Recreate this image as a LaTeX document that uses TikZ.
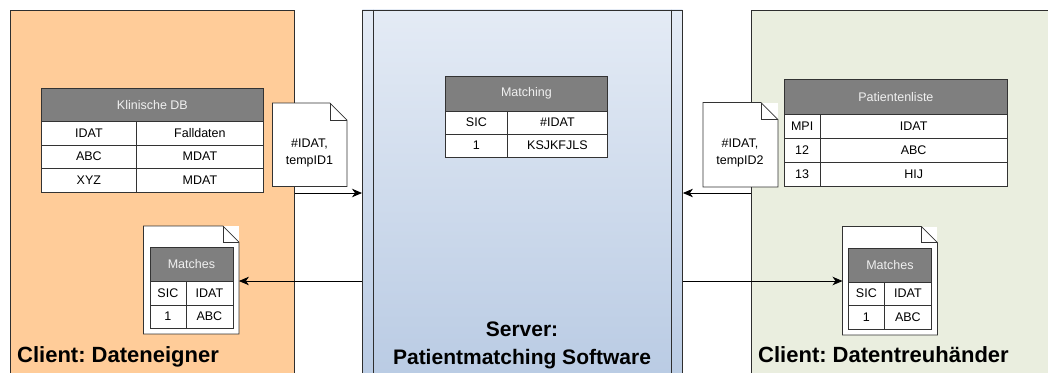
\documentclass[tikz,border=0pt]{standalone}
\usepackage{fontspec}
\setmainfont{Liberation Sans}
\usetikzlibrary{arrows.meta}
\definecolor{leftfill}{HTML}{FFCC99}
\definecolor{rightfill}{HTML}{EAEEDF}
\definecolor{srvtop}{HTML}{E4EBF5}
\definecolor{srvbot}{HTML}{B8CAE3}
\definecolor{framecol}{HTML}{2E2E2E}
\definecolor{tabline}{HTML}{333333}
\definecolor{hdrgray}{HTML}{7F7F7F}
\definecolor{hdrtext}{HTML}{F0F0F0}
\newcommand\tabfont{\fontsize{12.5}{14}\selectfont}
\newcommand\tc[7]{\node[#1, minimum width=#5pt, minimum height=#6pt] (#2) at (#3,#4) {#7};}
\newcommand\docoutline[2]{%
  \draw[docline] (#1.north west) -- ([xshift=-#2pt]#1.north east) -- ([yshift=-#2pt]#1.north east) -- (#1.south east) -- (#1.south west) -- cycle;
  \draw[docline] ([xshift=-#2pt]#1.north east) |- ([yshift=-#2pt]#1.north east);}
\frenchspacing
\begin{document}
\begin{tikzpicture}[x=1pt,y=-1pt,
  frame/.style={draw=framecol, line width=0.9pt, anchor=north west, inner sep=0pt},
  cellst/.style={draw=tabline, fill=white, line width=0.8pt, anchor=north west, inner sep=0pt, font=\tabfont, text=black},
  hdrst/.style={cellst, fill=hdrgray, text=hdrtext},
  docbody/.style={anchor=north west, inner sep=0pt, fill=white},
  docline/.style={draw=tabline, line width=0.8pt, line join=miter},
  doctext/.style={font=\fontsize{12.5}{16.5}\selectfont, align=center, inner sep=0pt},
  biglabel/.style={font=\fontsize{21}{27}\selectfont\bfseries, text=black, inner sep=0pt},
  arr/.style={draw=black, line width=0.8pt, -{Stealth[length=10pt,width=8.5pt,inset=3pt]}}
]
\useasboundingbox (0,0) rectangle (1048,372);
\clip (0,0) rectangle (1048,372);
\fill[white] (0,0) rectangle (1048,372);

% containers
\node[frame, fill=leftfill, minimum width=284.5pt, minimum height=380pt] (client1) at (9.5,10) {};
\node[frame, fill=rightfill, minimum width=320pt, minimum height=380pt] (client2) at (751,10) {};
\node[frame, top color=srvtop, bottom color=srvbot, minimum width=320pt, minimum height=380pt] (server) at (362,9.5) {};
\draw[framecol, line width=0.9pt] ([xshift=11pt]server.north west) -- ([xshift=11pt]server.south west);
\draw[framecol, line width=0.9pt] ([xshift=-11pt]server.north east) -- ([xshift=-11pt]server.south east);

% labels
\node[biglabel, font=\fontsize{22}{27}\selectfont\bfseries, anchor=base west] (lab1) at (17,362) {Client: Dateneigner};
\node[biglabel, font=\fontsize{22}{27}\selectfont\bfseries, anchor=base west] (lab2) at (758,362) {Client: Datentreuhänder};
\node[biglabel, anchor=base] (lab3a) at (522,336.5) {Server:};
\node[biglabel, anchor=base] (lab3b) at (522,364) {Patientmatching Software};

% Klinische DB
\tc{hdrst}{kh}{41}{88}{222}{33}{Klinische DB}
\tc{cellst}{k11}{41}{121}{95}{23.5}{IDAT}
\tc{cellst}{k12}{136}{121}{127}{23.5}{Falldaten}
\tc{cellst}{k21}{41}{144.5}{95}{23.5}{ABC}
\tc{cellst}{k22}{136}{144.5}{127}{23.5}{MDAT}
\tc{cellst}{k31}{41}{168}{95}{23.5}{XYZ}
\tc{cellst}{k32}{136}{168}{127}{23.5}{MDAT}

% Matching
\tc{hdrst}{mh}{445}{76}{162}{34.5}{Matching}
\tc{cellst}{m11}{445}{110.5}{62}{23}{SIC}
\tc{cellst}{m12}{507}{110.5}{100}{23}{\#IDAT}
\tc{cellst}{m21}{445}{133.5}{62}{23}{1}
\tc{cellst}{m22}{507}{133.5}{100}{23}{KSJKFJLS}

% Patientenliste
\tc{hdrst}{ph}{784}{79}{223}{34.5}{Patientenliste}
\tc{cellst}{p11}{784}{113.5}{35.5}{24}{MPI}
\tc{cellst}{p12}{819.5}{113.5}{187.5}{24}{IDAT}
\tc{cellst}{p21}{784}{137.5}{35.5}{24}{12}
\tc{cellst}{p22}{819.5}{137.5}{187.5}{24}{ABC}
\tc{cellst}{p31}{784}{161.5}{35.5}{24}{13}
\tc{cellst}{p32}{819.5}{161.5}{187.5}{24}{HIJ}

% documents with tempIDs
\node[docbody, minimum width=74pt, minimum height=83pt] (d1) at (272.5,103) {};
\docoutline{d1}{17}
\node[doctext] (d1t) at (309.5,153) {\#IDAT,\\tempID1};
\node[docbody, minimum width=74.5pt, minimum height=84pt] (d2) at (703,102.5) {};
\docoutline{d2}{17}
\node[doctext] (d2t) at (740,153) {\#IDAT,\\tempID2};

% Matches documents
\node[docbody, minimum width=95pt, minimum height=107.5pt] (md1) at (143.5,226) {};
\docoutline{md1}{16}
\tc{hdrst}{ah}{149.5}{247}{83}{34}{Matches}
\tc{cellst}{a11}{149.5}{281}{36}{23.5}{SIC}
\tc{cellst}{a12}{185.5}{281}{47}{23.5}{IDAT}
\tc{cellst}{a21}{149.5}{304.5}{36}{23.5}{1}
\tc{cellst}{a22}{185.5}{304.5}{47}{23.5}{ABC}

\node[docbody, minimum width=94.5pt, minimum height=108pt] (md2) at (842.5,226.5) {};
\docoutline{md2}{16}
\tc{hdrst}{bh}{848}{247.5}{83}{34}{Matches}
\tc{cellst}{b11}{848}{281.5}{36}{23.5}{SIC}
\tc{cellst}{b12}{884}{281.5}{47}{23.5}{IDAT}
\tc{cellst}{b21}{848}{305}{36}{23.5}{1}
\tc{cellst}{b22}{884}{305}{47}{23.5}{ABC}

% connectors
\coordinate (y1) at (0,193);
\coordinate (y2) at (0,281);
\draw[arr] (client1.east |- y1) -- (server.west |- y1);
\draw[arr] (client2.west |- y1) -- (server.east |- y1);
\draw[arr] (server.west |- y2) -- (md1.east |- y2);
\draw[arr] (server.east |- y2) -- (md2.west |- y2);
\end{tikzpicture}
\end{document}
